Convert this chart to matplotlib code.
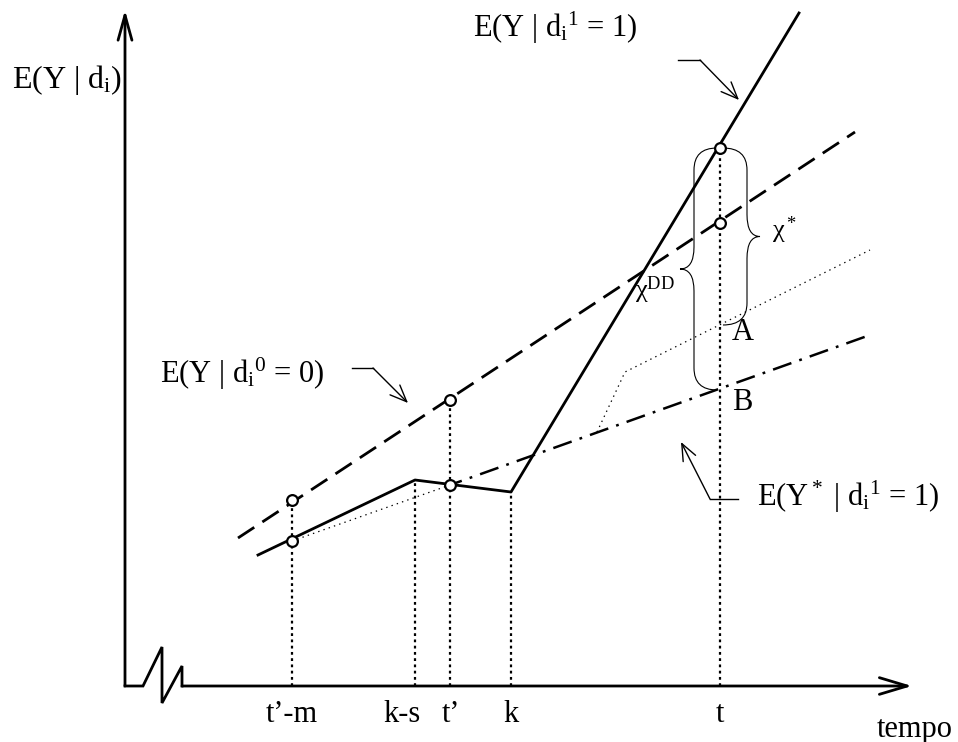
import numpy as np
import matplotlib
matplotlib.use("Agg")
import matplotlib.pyplot as plt
from matplotlib.path import Path
from matplotlib.patches import PathPatch

plt.rcParams['font.family'] = ['Liberation Serif', 'DejaVu Serif']
plt.rcParams['mathtext.fontset'] = 'custom'
plt.rcParams['mathtext.rm'] = 'Liberation Serif'
plt.rcParams['mathtext.it'] = 'Liberation Serif:italic'
plt.rcParams['mathtext.default'] = 'rm'
plt.rcParams['lines.scale_dashes'] = False

# time positions on the horizontal axis
tick_labels = ["t\u2019-m", "k-s", "t\u2019", "k", "t"]
tick_x = [167, 290, 325, 386, 595]
label_shift = [0, -13, 1, 0, 0]   # k-s label sits a bit left of its tick

# E(Y | d=0): counterfactual trend (dashed)
ctrl_x = [113, 730]
ctrl_y = [148, 554]
# E(Y | d=1): observed path of the treated (solid)
treat_x = [133, 290, 386, 674]
treat_y = [131, 206, 194, 673]
# E(Y* | d=1): extrapolated pre-trend (dash-dot)
star_x = [325, 745]
star_y = [201, 351]
# thin dotted guide lines
guide1_x = [167, 325]
guide1_y = [145, 201]
guide2_x = [472, 500, 745]
guide2_y = [254, 314, 436]
# highlighted points
pts_x = [167, 167, 325, 325, 595, 595]
pts_y = [145, 186, 286, 201, 538, 463]
# top of each vertical dotted line
drop_y = [186, 206, 286, 194, 538]
# brace ends
A_y = 361
B_y = 296

fig = plt.figure(figsize=(9.58, 7.42), dpi=100)
ax = fig.add_axes([0, 0, 1, 1])
ax.set_xlim(-125, 833)
ax.set_ylim(-56, 686)
ax.axis('off')

# axes with break
ax.annotate('', xy=(0, 676), xytext=(0, 0),
            arrowprops=dict(arrowstyle='->, head_length=0.9, head_width=0.25',
                            lw=2, color='black', mutation_scale=20, shrinkA=0, shrinkB=0))
ax.plot([0, 18, 37, 37, 57, 57], [0, 0, 39, -17, 20, 0], color='black', lw=2,
        solid_joinstyle='miter')
ax.annotate('', xy=(787, 0), xytext=(57, 0),
            arrowprops=dict(arrowstyle='->, head_length=1.0, head_width=0.3',
                            lw=2, color='black', mutation_scale=20, shrinkA=0, shrinkB=0))

# vertical dotted drop lines and tick labels
for x, top, lab, dx in zip(tick_x, drop_y, tick_labels, label_shift):
    ax.plot([x, x], [0, top], color='black', lw=1.6, linestyle=(0, (2, 2.5)))
    ax.text(x + dx, -28, lab, ha='center', va='center', fontsize=22)
ax.text(752, -43, "tempo", ha='left', va='center', fontsize=22)

# main lines
ax.plot(ctrl_x, ctrl_y, color='black', lw=2, linestyle=(0, (14, 7)))
ax.plot(treat_x, treat_y, color='black', lw=2)
ax.plot(star_x, star_y, color='black', lw=1.8, linestyle=(5, (14, 6, 2, 6)))
ax.plot(guide1_x, guide1_y, color='black', lw=0.9, linestyle=(0, (1, 3)))
ax.plot(guide2_x, guide2_y, color='black', lw=0.9, linestyle=(0, (1, 3)))
ax.scatter(pts_x, pts_y, s=60, facecolor='white', edgecolor='black', linewidth=1.6, zorder=5)


def brace(x0, y_top, y_bot, side, spine=24, tip=37, r=22):
    xs = x0 + side * spine
    xt = x0 + side * tip
    ym = (y_top + y_bot) / 2
    verts = [(x0, y_top), (xs, y_top), (xs, y_top - r),
             (xs, ym + r), (xs, ym), (xt, ym),
             (xs, ym), (xs, ym - r),
             (xs, y_bot + r), (xs, y_bot), (x0, y_bot)]
    codes = [Path.MOVETO, Path.CURVE3, Path.CURVE3,
             Path.LINETO, Path.CURVE3, Path.CURVE3,
             Path.CURVE3, Path.CURVE3,
             Path.LINETO, Path.CURVE3, Path.CURVE3]
    ax.add_patch(PathPatch(Path(verts, codes), facecolor='none', edgecolor='black', lw=0.8))


brace(598, 538, A_y, +1)
brace(592, 538, B_y, -1, spine=23, tip=37)

ax.text(647, 456, r'$\chi^*$', ha='left', va='center', fontsize=19)
ax.text(510, 396, r'$\chi^{\mathrm{DD}}$', ha='left', va='center', fontsize=19)
ax.text(607, 354, "A", ha='left', va='center', fontsize=22)
ax.text(607, 283, "B", ha='left', va='center', fontsize=22)

# labels with pointers
ax.text(-113, 606, r'E(Y | d$_\mathrm{i}$)', ha='left', va='center', fontsize=23)

ax.text(348, 658, r'E(Y | d$_\mathrm{i}{}^\mathrm{1}$ = 1)', ha='left', va='center', fontsize=22)
ax.plot([553, 575], [626, 626], color='black', lw=1)
ax.annotate('', xy=(614, 586), xytext=(575, 626),
            arrowprops=dict(arrowstyle='->, head_length=0.6, head_width=0.25',
                            lw=1, color='black', mutation_scale=20, shrinkA=0, shrinkB=0))

ax.text(35, 312, r'E(Y | d$_\mathrm{i}{}^\mathrm{0}$ = 0)', ha='left', va='center', fontsize=22)
ax.plot([227, 248], [318, 318], color='black', lw=1)
ax.annotate('', xy=(283, 283), xytext=(248, 318),
            arrowprops=dict(arrowstyle='->, head_length=0.6, head_width=0.25',
                            lw=1, color='black', mutation_scale=20, shrinkA=0, shrinkB=0))

ax.text(632, 189, r'E(Y$^*$ | d$_\mathrm{i}{}^\mathrm{1}$ = 1)', ha='left', va='center', fontsize=22)
ax.plot([585, 613], [187, 187], color='black', lw=1)
ax.annotate('', xy=(556, 244), xytext=(585, 187),
            arrowprops=dict(arrowstyle='->, head_length=0.6, head_width=0.25',
                            lw=1, color='black', mutation_scale=20, shrinkA=0, shrinkB=0))

fig.savefig("out.png", dpi=100)
